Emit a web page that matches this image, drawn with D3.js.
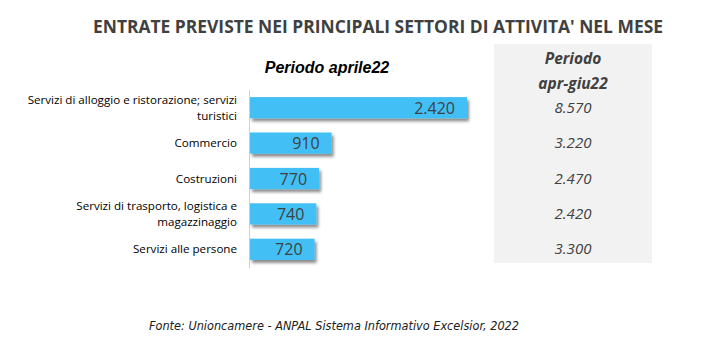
<!DOCTYPE html>
<html>
<head>
  <script src="https://d3js.org/d3.v7.min.js"></script>
  <style>
    body { margin: 0; background: #fff; }
  </style>
</head>
<body>
  <div id="chart"></div>
  <script>
    var categories = [
      ["Servizi di alloggio e ristorazione; servizi", "turistici"],
      ["Commercio"],
      ["Costruzioni"],
      ["Servizi di trasporto, logistica e", "magazzinaggio"],
      ["Servizi alle persone"]
    ];
    var valuesApril = [2420, 910, 770, 740, 720];
    var valuesQuarter = [8570, 3220, 2470, 2420, 3300];

    var it = d3.formatLocale({decimal: ",", thousands: ".", grouping: [3], currency: ["", "€"]});
    var fmt = it.format(",.0f");

    var width = 701, height = 354;
    var svg = d3.select("#chart").append("svg")
      .attr("width", width)
      .attr("height", height);

    var defs = svg.append("defs");
    var f = defs.append("filter").attr("id", "shadow")
      .attr("x", "-10%").attr("y", "-30%").attr("width", "130%").attr("height", "190%");
    f.append("feDropShadow")
      .attr("dx", 2).attr("dy", 3).attr("stdDeviation", 1.6)
      .attr("flood-color", "#000").attr("flood-opacity", 0.45);

    // title
    svg.append("text")
      .attr("x", 378).attr("y", 33)
      .attr("text-anchor", "middle")
      .attr("font-family", "Open Sans")
      .attr("font-weight", "bold")
      .attr("font-size", 17)
      .attr("textLength", 570)
      .attr("lengthAdjust", "spacingAndGlyphs")
      .attr("fill", "#404040")
      .text("ENTRATE PREVISTE NEI PRINCIPALI SETTORI DI ATTIVITA' NEL MESE");

    svg.append("text")
      .attr("x", 327).attr("y", 73)
      .attr("text-anchor", "middle")
      .attr("font-family", "Liberation Sans")
      .attr("font-style", "italic")
      .attr("font-weight", "bold")
      .attr("font-size", 16)
      .attr("fill", "#000")
      .text("Periodo aprile22");

    // gray box for quarter
    svg.append("rect")
      .attr("x", 494).attr("y", 44)
      .attr("width", 158).attr("height", 219)
      .attr("fill", "#f2f2f2");

    var colX = 573;
    svg.append("text")
      .attr("x", colX).attr("y", 64)
      .attr("text-anchor", "middle")
      .attr("font-family", "Open Sans")
      .attr("font-style", "italic").attr("font-weight", "bold")
      .attr("font-size", 15.5).attr("fill", "#404040")
      .text("Periodo");
    svg.append("text")
      .attr("x", colX).attr("y", 89)
      .attr("text-anchor", "middle")
      .attr("font-family", "Open Sans")
      .attr("font-style", "italic").attr("font-weight", "bold")
      .attr("font-size", 15.5).attr("fill", "#404040")
      .text("apr-giu22");

    var margin = {left: 250, top: 90};
    var x = d3.scaleLinear()
      .domain([0, 2420])
      .range([margin.left, 467]);

    var y = d3.scaleBand()
      .domain(d3.range(categories.length))
      .range([90, 267])
      .paddingInner(0.4)
      .paddingOuter(0.2);

    // axis line
    svg.append("line")
      .attr("x1", margin.left - 0.5).attr("x2", margin.left - 0.5)
      .attr("y1", 90).attr("y2", 268)
      .attr("stroke", "#d0d0d0").attr("stroke-width", 1);

    svg.selectAll("rect.bar")
      .data(valuesApril)
      .enter().append("rect")
      .attr("class", "bar")
      .attr("x", x(0))
      .attr("y", (d, i) => y(i))
      .attr("width", d => x(d) - x(0))
      .attr("height", y.bandwidth())
      .attr("fill", "#43c0f6")
      .attr("filter", "url(#shadow)");

    svg.selectAll("text.val")
      .data(valuesApril)
      .enter().append("text")
      .attr("class", "val")
      .attr("x", d => x(d) - 12)
      .attr("y", (d, i) => y(i) + y.bandwidth() / 2 + 6)
      .attr("text-anchor", "end")
      .attr("font-family", "Open Sans")
      .attr("font-size", 16)
      .attr("fill", "#404040")
      .text(d => fmt(d));

    // category labels
    var lab = svg.selectAll("text.cat")
      .data(categories)
      .enter().append("text")
      .attr("class", "cat")
      .attr("text-anchor", "end")
      .attr("font-family", "Open Sans")
      .attr("font-size", 11.6)
      .attr("fill", "#000");
    lab.each(function(d, i) {
      var t = d3.select(this);
      var cy = y(i) + y.bandwidth() / 2;
      var start = cy + 4 - (d.length - 1) * 8;
      d.forEach(function(line, j) {
        t.append("tspan")
          .attr("x", 237)
          .attr("y", start + j * 16)
          .text(line);
      });
    });

    // quarter values
    svg.selectAll("text.q")
      .data(valuesQuarter)
      .enter().append("text")
      .attr("class", "q")
      .attr("x", colX)
      .attr("y", (d, i) => y(i) + y.bandwidth() / 2 + 5)
      .attr("text-anchor", "middle")
      .attr("font-family", "Open Sans")
      .attr("font-style", "italic")
      .attr("font-size", 15)
      .attr("fill", "#404040")
      .text(d => fmt(d));

    svg.append("text")
      .attr("x", 334).attr("y", 330)
      .attr("text-anchor", "middle")
      .attr("font-family", "DejaVu Sans")
      .attr("font-style", "italic")
      .attr("font-size", 12)
      .attr("textLength", 370)
      .attr("lengthAdjust", "spacingAndGlyphs")
      .attr("fill", "#202020")
      .text("Fonte: Unioncamere - ANPAL Sistema Informativo Excelsior, 2022");
  </script>
</body>
</html>
